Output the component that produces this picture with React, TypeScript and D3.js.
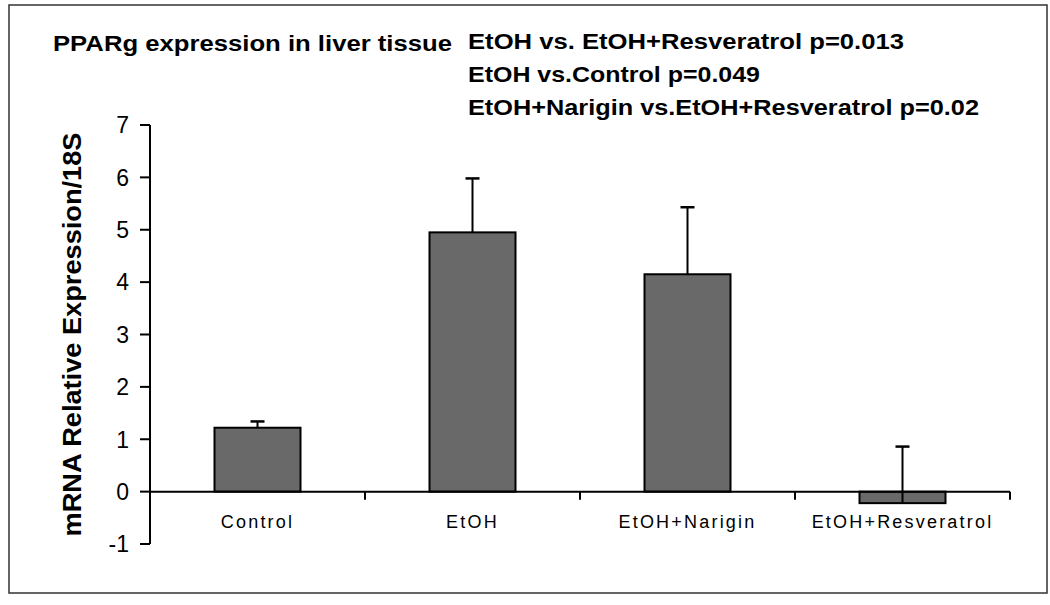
import React from 'react';
import * as d3 from 'd3';

const categories = ['Control', 'EtOH', 'EtOH+Narigin', 'EtOH+Resveratrol'];
const means = [1.22, 4.95, 4.15, -0.22];
const errors = [0.12, 1.03, 1.28, 1.08];
const yTicks = [-1, 0, 1, 2, 3, 4, 5, 6, 7];
const title = 'PPARg expression in  liver tissue';
const statLines = [
  'EtOH vs. EtOH+Resveratrol p=0.013',
  'EtOH vs.Control p=0.049',
  'EtOH+Narigin vs.EtOH+Resveratrol p=0.02',
];

const W = 1050;
const H = 605;
const left = 150;
const right = 1010;

const App = () => {
  const x = d3.scaleBand<string>()
    .domain(categories)
    .range([left, right])
    .paddingInner(0.6)
    .paddingOuter(0.3);
  const y = d3.scaleLinear().domain([-1, 7]).range([544, 125]);
  const step = x.step();
  const bw = x.bandwidth();
  const font = 'Arial, "Liberation Sans", sans-serif';

  // widths of the squeezed bold header lines in the picture
  const statWidths = [436, 292, 511];

  return (
    <div style={{ position: 'absolute', left: 0, top: 0 }}>
      <svg width={W} height={H} style={{ display: 'block', background: '#fff' }}>
        <rect x={9} y={5} width={1038} height={588} fill="#fff" stroke="#333" strokeWidth={1.5} />

        {/* header */}
        <text x={53} y={51} fontFamily={font} fontWeight="bold" fontSize={22}
          textLength={399} lengthAdjust="spacingAndGlyphs">{title}</text>
        {statLines.map((s, i) => (
          <text key={s} x={468} y={49 + i * 33} fontFamily={font} fontWeight="bold" fontSize={22}
            textLength={statWidths[i]} lengthAdjust="spacingAndGlyphs">{s}</text>
        ))}

        {/* y axis */}
        <line x1={left} x2={left} y1={y(7)} y2={y(-1)} stroke="#000" strokeWidth={2} />
        {yTicks.map(t => (
          <g key={t}>
            <line x1={left - 10} x2={left} y1={y(t)} y2={y(t)} stroke="#000" strokeWidth={2} />
            <text x={129} y={y(t)} dy="0.36em" textAnchor="end" fontFamily={font} fontSize={23}>{t}</text>
          </g>
        ))}
        <text transform={`translate(81,${(y(7) + y(-1)) / 2}) rotate(-90)`} textAnchor="middle"
          fontFamily={font} fontWeight="bold" fontSize={25}
          textLength={404} lengthAdjust="spacingAndGlyphs">mRNA Relative Expression/18S</text>

        {/* bars */}
        {categories.map((c, i) => {
          const x0 = x(c)!;
          const top = y(Math.max(0, means[i]));
          const h = Math.abs(y(means[i]) - y(0));
          const cx = x0 + bw / 2;
          return (
            <g key={c}>
              <rect x={x0} y={top} width={bw} height={h} fill="#696969" stroke="#000" strokeWidth={2} />
              <line x1={cx} x2={cx} y1={y(means[i])} y2={y(means[i] + errors[i])} stroke="#000" strokeWidth={2} />
              <line x1={cx - 7} x2={cx + 7} y1={y(means[i] + errors[i])} y2={y(means[i] + errors[i])} stroke="#000" strokeWidth={2.5} />
            </g>
          );
        })}

        {/* x axis */}
        <line x1={left} x2={right} y1={y(0)} y2={y(0)} stroke="#000" strokeWidth={2} />
        {categories.map((c, i) => (
          <g key={c}>
            <line x1={left + step * (i + 1)} x2={left + step * (i + 1)} y1={y(0)} y2={y(0) + 8} stroke="#000" strokeWidth={2} />
            <text x={x(c)! + bw / 2} y={528} textAnchor="middle" fontFamily={font} fontSize={18}
              letterSpacing={2.2}>{c}</text>
          </g>
        ))}
      </svg>
    </div>
  );
};

export default App;
